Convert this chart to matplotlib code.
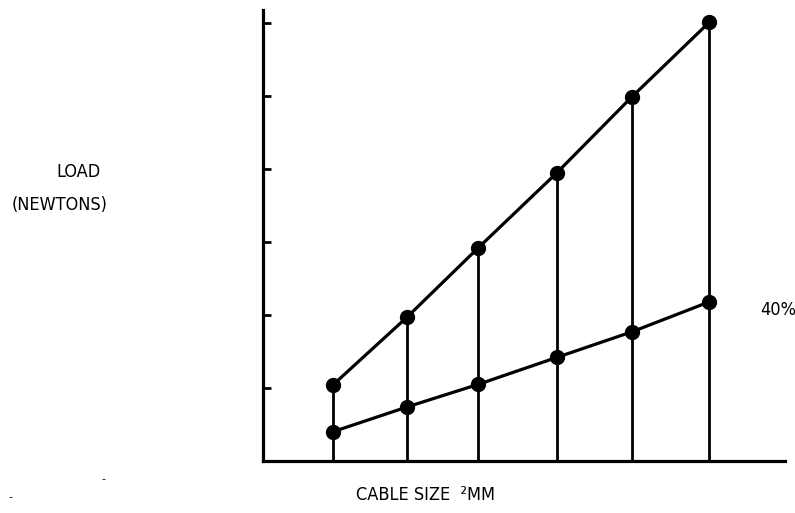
import matplotlib.pyplot as plt
import numpy as np

# cable sizes (arbitrary units along the x axis) and loads (arbitrary units)
cable_size = [0.93, 1.92, 2.87, 3.92, 4.92, 5.95]
load_full = [1.04, 1.97, 2.92, 3.95, 4.99, 6.01]
load_40pct = [0.40, 0.74, 1.05, 1.42, 1.77, 2.18]
y_ticks = [1, 2, 3, 4, 5, 6]

font_s = 13
W, H = 795, 513

fig = plt.figure(figsize=(W / 100, H / 100), dpi=100)
# axes box in pixel terms: origin at (263, 461), top at y=10, right at x=785
ax = fig.add_axes([263 / W, (H - 461) / H, (785 - 263) / W, (461 - 10) / H])
ax.set_xlim(0, (785 - 263) / 75)
ax.set_ylim(0, (461 - 10) / 73)

# vertical drop lines from the upper curve to the x axis
ax.vlines(cable_size, 0, load_full, color='black', lw=2)
ax.plot(cable_size, load_full, color='black', lw=2.3, marker='o', ms=10)
ax.plot(cable_size, load_40pct, color='black', lw=2.3, marker='o', ms=10)

for s in ['top', 'right']:
    ax.spines[s].set_visible(False)
ax.spines['left'].set_linewidth(2.3)
ax.spines['bottom'].set_linewidth(2.3)
ax.set_xticks([])
ax.set_yticks(y_ticks)
ax.set_yticklabels([])
ax.tick_params(axis='y', direction='in', length=6, width=2, color='black')

fig.text(79 / W, 1 - 172 / H, 'LOAD', ha='center', va='center', fontsize=font_s,
         fontstretch='condensed')
fig.text(60 / W, 1 - 205 / H, '(NEWTONS)', ha='center', va='center', fontsize=font_s,
         fontstretch='condensed')
fig.text(760 / W, 1 - 310 / H, '40%', ha='left', va='center', fontsize=font_s,
         fontstretch='condensed')
fig.text(426 / W, 1 - 495 / H, 'CABLE SIZE  \u00b2MM', ha='center', va='center',
         fontsize=font_s, fontstretch='condensed')
# stray scan marks
fig.text(10 / W, 1 - 497 / H, '-', ha='center', va='center', fontsize=8)
fig.text(103 / W, 1 - 479 / H, '-', ha='center', va='center', fontsize=8)

fig.savefig('out.png', dpi=100)
